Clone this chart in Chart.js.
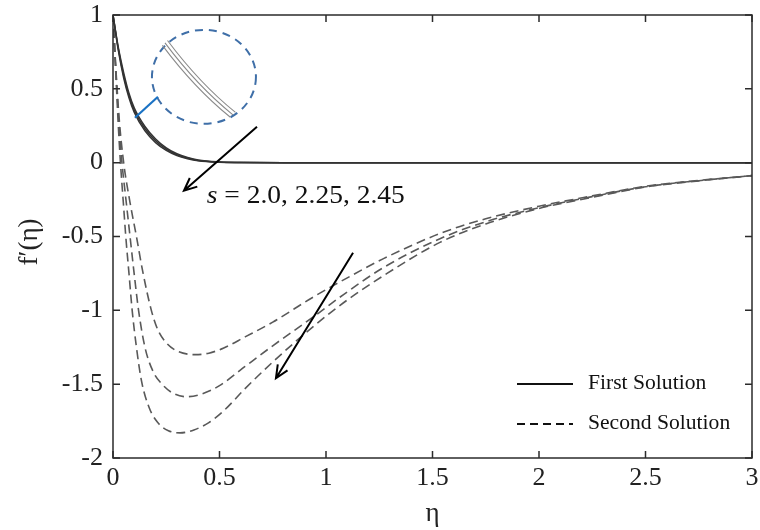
<!DOCTYPE html>
<html>
<head>
<meta charset="utf-8">
<title>f'(eta) first and second solutions</title>
<script src="https://cdn.jsdelivr.net/npm/chart.js@4"></script>
<style>
  html, body { margin: 0; padding: 0; background: #fff; overflow: hidden; }
  #wrap { width: 760px; height: 530px; }
</style>
</head>
<body>
<div id="wrap"><canvas id="c" width="760" height="530"></canvas></div>
<script>
// ---- data ----
const sValues = ['2.0', '2.25', '2.45'];

// first solution (solid), same eta grid for all three curves
const firstEta = [0, 0.025, 0.05, 0.075, 0.1, 0.15, 0.2, 0.25, 0.3, 0.35, 0.4, 0.5, 0.6, 0.8, 1, 1.5, 2, 2.5, 3];
const first_s20  = [1, 0.78, 0.61, 0.47, 0.37, 0.245, 0.16, 0.1, 0.06, 0.035, 0.018, 0.005, 0.001, 0, 0, 0, 0, 0, 0];
const first_s225 = [1, 0.77, 0.59, 0.455, 0.355, 0.23, 0.148, 0.092, 0.054, 0.031, 0.015, 0.004, 0.001, 0, 0, 0, 0, 0, 0];
const first_s245 = [1, 0.76, 0.575, 0.44, 0.34, 0.215, 0.136, 0.083, 0.048, 0.027, 0.013, 0.003, 0.001, 0, 0, 0, 0, 0, 0];

// second solution (dashed)
const secondEta_s20  = [0, 0.015, 0.03, 0.05, 0.08, 0.11, 0.14, 0.18, 0.21, 0.25, 0.3, 0.385, 0.45, 0.52, 0.62, 0.75, 0.94, 1.1, 1.27, 1.535, 1.75, 2, 2.25, 2.5, 2.75, 3];
const second_s20     = [1, 0.6, 0.28, 0, -0.27, -0.5, -0.74, -1.0, -1.13, -1.22, -1.275, -1.30, -1.29, -1.255, -1.18, -1.08, -0.91, -0.78, -0.65, -0.48, -0.38, -0.295, -0.225, -0.16, -0.12, -0.088];
const secondEta_s225 = [0, 0.015, 0.03, 0.042, 0.06, 0.08, 0.1, 0.12, 0.15, 0.19, 0.23, 0.28, 0.346, 0.42, 0.5, 0.62, 0.75, 0.94, 1.1, 1.27, 1.535, 1.75, 2, 2.25, 2.5, 2.75, 3];
const second_s225    = [1, 0.58, 0.22, 0, -0.24, -0.5, -0.76, -1.0, -1.25, -1.42, -1.5, -1.56, -1.585, -1.565, -1.51, -1.38, -1.24, -1.045, -0.875, -0.71, -0.515, -0.4, -0.305, -0.23, -0.163, -0.122, -0.088];
const secondEta_s245 = [0, 0.015, 0.025, 0.035, 0.05, 0.06, 0.075, 0.09, 0.11, 0.134, 0.17, 0.21, 0.26, 0.315, 0.38, 0.45, 0.52, 0.62, 0.75, 0.94, 1.1, 1.27, 1.535, 1.75, 2, 2.25, 2.5, 2.75, 3];
const second_s245    = [1, 0.55, 0.25, 0, -0.3, -0.5, -0.75, -1.0, -1.25, -1.48, -1.66, -1.76, -1.815, -1.83, -1.81, -1.76, -1.68, -1.53, -1.35, -1.11, -0.93, -0.765, -0.54, -0.415, -0.31, -0.235, -0.165, -0.123, -0.088];

const xTicks = [0, 0.5, 1, 1.5, 2, 2.5, 3];
const yTicks = [1, 0.5, 0, -0.5, -1, -1.5, -2];

const SERIF = '"Liberation Serif", "Times New Roman", serif';

function pts(xs, ys) { return xs.map((x, i) => ({ x: x, y: ys[i] })); }

function solid(label, ys) {
  return { label: label, data: pts(firstEta, ys), borderColor: '#333', borderWidth: 1.5,
           pointRadius: 0, showLine: true, cubicInterpolationMode: 'monotone', fill: false };
}
function dashed(label, xs, ys) {
  return { label: label, data: pts(xs, ys), borderColor: '#595959', borderWidth: 1.6, borderDash: [9, 5],
           pointRadius: 0, showLine: true, cubicInterpolationMode: 'monotone', fill: false };
}

function noPad(s) {
  s.paddingLeft = 0; s.paddingRight = 0; s.paddingTop = 0; s.paddingBottom = 0;
}

// draws box, inward ticks, titles, annotations and legend
const decor = {
  id: 'decor',
  afterDraw(chart) {
    const ctx = chart.ctx, a = chart.chartArea;
    const xs = chart.scales.x, ys = chart.scales.y;
    const X = v => xs.getPixelForValue(v), Y = v => ys.getPixelForValue(v);
    ctx.save();

    // frame + ticks
    ctx.strokeStyle = '#2b2b2b';
    ctx.lineWidth = 1.5;
    ctx.strokeRect(a.left, a.top, a.right - a.left, a.bottom - a.top);
    ctx.beginPath();
    xTicks.forEach(t => {
      const px = X(t);
      ctx.moveTo(px, a.bottom); ctx.lineTo(px, a.bottom - 7);
      ctx.moveTo(px, a.top); ctx.lineTo(px, a.top + 7);
    });
    yTicks.forEach(t => {
      const py = Y(t);
      ctx.moveTo(a.left, py); ctx.lineTo(a.left + 7, py);
      ctx.moveTo(a.right, py); ctx.lineTo(a.right - 7, py);
    });
    ctx.stroke();

    // axis titles
    ctx.fillStyle = '#222';
    ctx.font = '27px ' + SERIF;
    ctx.textAlign = 'center';
    ctx.textBaseline = 'middle';
    ctx.fillText('η', (a.left + a.right) / 2, 514);
    ctx.save();
    ctx.translate(30, 242);
    ctx.rotate(-Math.PI / 2);
    ctx.fillText('f′(η)', 0, 0);
    ctx.restore();

    // arrows
    function arrow(x1, y1, x2, y2) {
      const p1 = [X(x1), Y(y1)], p2 = [X(x2), Y(y2)];
      const ang = Math.atan2(p2[1] - p1[1], p2[0] - p1[0]);
      const h = 14, spread = 0.42;
      ctx.strokeStyle = '#000';
      ctx.lineWidth = 2;
      ctx.beginPath();
      ctx.moveTo(p1[0], p1[1]); ctx.lineTo(p2[0], p2[1]);
      ctx.moveTo(p2[0] - h * Math.cos(ang - spread), p2[1] - h * Math.sin(ang - spread));
      ctx.lineTo(p2[0], p2[1]);
      ctx.lineTo(p2[0] - h * Math.cos(ang + spread), p2[1] - h * Math.sin(ang + spread));
      ctx.stroke();
    }
    arrow(0.676, 0.243, 0.333, -0.19);
    arrow(1.127, -0.61, 0.765, -1.46);

    // s label (slightly widened like the source)
    ctx.fillStyle = '#111';
    ctx.textAlign = 'left';
    ctx.textBaseline = 'alphabetic';
    ctx.save();
    ctx.translate(X(0.44), Y(-0.275));
    ctx.scale(1.1, 1);
    ctx.font = 'italic 25px ' + SERIF;
    ctx.fillText('s', 0, 0);
    const sw = ctx.measureText('s').width;
    ctx.font = '25px ' + SERIF;
    ctx.fillText(' = ' + sValues.join(', '), sw, 0);
    ctx.restore();

    // zoom inset
    const cx = X(0.427), cy = Y(0.581);
    ctx.strokeStyle = '#3f6fa8';
    ctx.lineWidth = 2;
    ctx.setLineDash([8, 6]);
    ctx.beginPath();
    ctx.ellipse(cx, cy, 52, 47, 0, 0, Math.PI * 2);
    ctx.stroke();
    ctx.setLineDash([]);
    ctx.strokeStyle = '#1a72c4';
    ctx.lineWidth = 2.2;
    ctx.beginPath();
    ctx.moveTo(X(0.103), Y(0.304));
    ctx.lineTo(X(0.211), Y(0.446));
    ctx.stroke();
    const s0 = [X(0.244), Y(0.811)], c0 = [X(0.395), Y(0.52)], e0 = [X(0.563), Y(0.324)];
    ctx.strokeStyle = '#8a8a8a';
    ctx.lineWidth = 1.1;
    [-3.5, 0, 3.5].forEach(o => {
      const dx = 0.73 * o, dy = -0.69 * o;
      ctx.beginPath();
      ctx.moveTo(s0[0] + dx, s0[1] + dy);
      ctx.quadraticCurveTo(c0[0] + dx, c0[1] + dy, e0[0] + dx, e0[1] + dy);
      ctx.stroke();
    });

    // legend
    const lx = a.right - 235, ly1 = a.bottom - 74, ly2 = a.bottom - 34;
    ctx.strokeStyle = '#111';
    ctx.lineWidth = 2;
    ctx.beginPath(); ctx.moveTo(lx, ly1); ctx.lineTo(lx + 56, ly1); ctx.stroke();
    ctx.setLineDash([8, 5]);
    ctx.beginPath(); ctx.moveTo(lx, ly2); ctx.lineTo(lx + 56, ly2); ctx.stroke();
    ctx.setLineDash([]);
    ctx.fillStyle = '#111';
    ctx.textBaseline = 'middle';
    ctx.save();
    ctx.translate(lx + 71, 0);
    ctx.scale(1.08, 1);
    ctx.font = '20px ' + SERIF;
    ctx.fillText('First Solution', 0, ly1);
    ctx.fillText('Second Solution', 0, ly2);
    ctx.restore();

    ctx.restore();
  }
};

new Chart(document.getElementById('c'), {
  type: 'scatter',
  data: {
    datasets: [
      solid('First s=2.0', first_s20),
      solid('First s=2.25', first_s225),
      solid('First s=2.45', first_s245),
      dashed('Second s=2.0', secondEta_s20, second_s20),
      dashed('Second s=2.25', secondEta_s225, second_s225),
      dashed('Second s=2.45', secondEta_s245, second_s245)
    ]
  },
  options: {
    responsive: false,
    animation: false,
    layout: { padding: { top: 15, right: 8, left: 0, bottom: 0 } },
    plugins: { legend: { display: false }, tooltip: { enabled: false } },
    scales: {
      x: {
        type: 'linear', min: 0, max: 3,
        afterBuildTicks: s => { s.ticks = xTicks.map(v => ({ value: v })); },
        afterFit: s => { s.height = 72; noPad(s); },
        grid: { display: false, drawTicks: false },
        border: { display: false },
        ticks: { color: '#222', font: { family: SERIF, size: 26 }, padding: 5, maxRotation: 0,
                 callback: v => String(v) }
      },
      y: {
        type: 'linear', min: -2, max: 1,
        afterBuildTicks: s => { s.ticks = yTicks.map(v => ({ value: v })); },
        afterFit: s => { s.width = 113; noPad(s); },
        grid: { display: false, drawTicks: false },
        border: { display: false },
        ticks: { color: '#222', font: { family: SERIF, size: 26 }, padding: 10,
                 callback: v => String(v) }
      }
    }
  },
  plugins: [decor]
});
</script>
</body>
</html>
